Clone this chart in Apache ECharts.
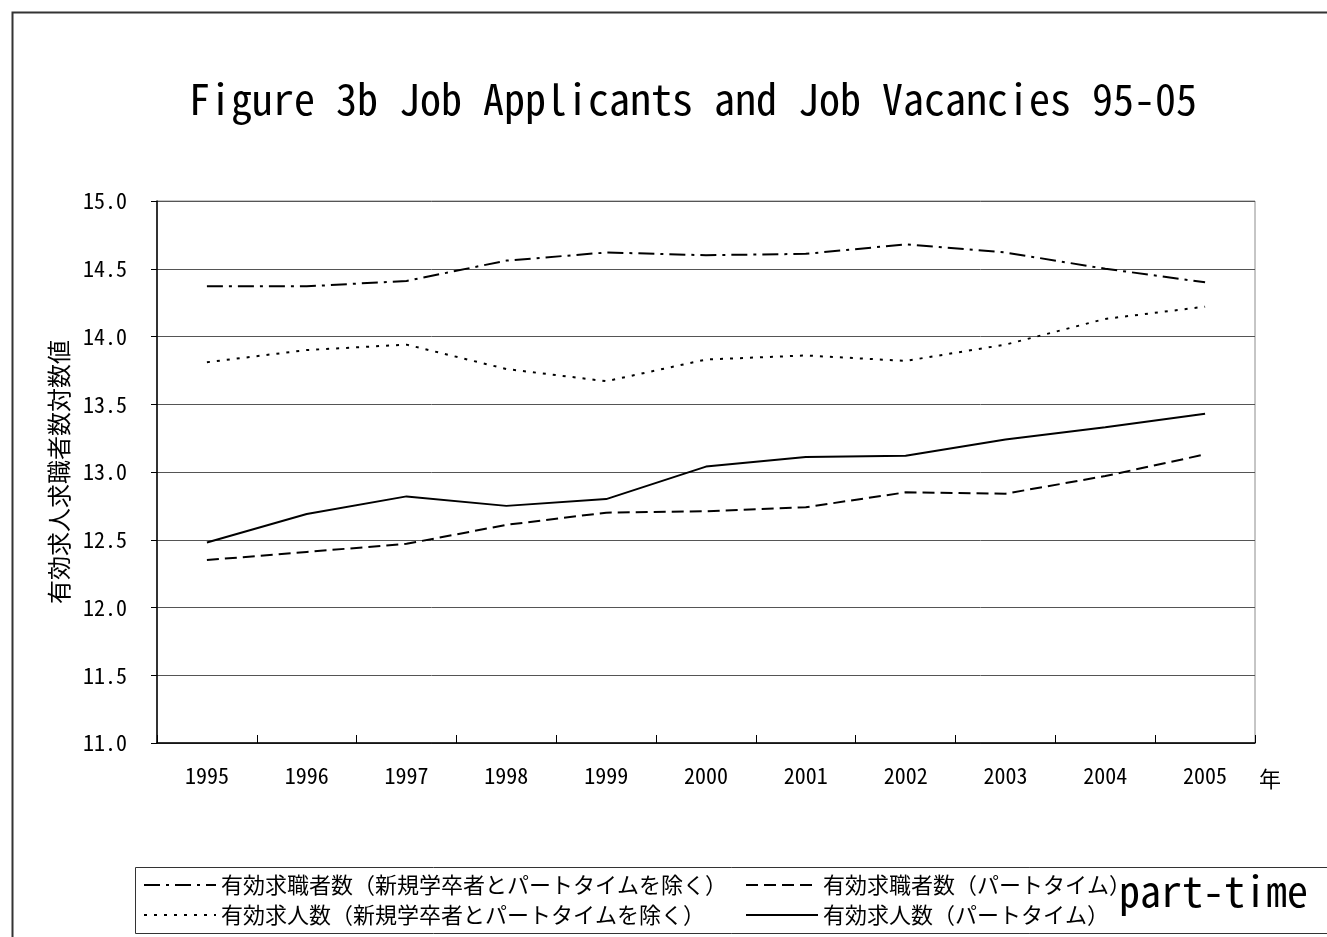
<!DOCTYPE html>
<html>
<head>
<meta charset="utf-8">
<script src="https://cdn.jsdelivr.net/npm/echarts@6/dist/echarts.min.js"></script>
<style>
html,body{margin:0;padding:0;background:#fff;}
#chart{width:1327px;height:937px;}
</style>
</head>
<body>
<div id="chart"></div>
<script>
// ---- data ----
var years = ['1995','1996','1997','1998','1999','2000','2001','2002','2003','2004','2005'];
var applicantsExcl = [14.37,14.37,14.41,14.56,14.62,14.60,14.61,14.68,14.62,14.50,14.40];
var applicantsPT   = [12.35,12.41,12.47,12.61,12.70,12.71,12.74,12.85,12.84,12.97,13.13];
var vacanciesExcl  = [13.81,13.90,13.94,13.76,13.67,13.83,13.86,13.82,13.94,14.13,14.22];
var vacanciesPT    = [12.48,12.69,12.82,12.75,12.80,13.04,13.11,13.12,13.24,13.33,13.43];
var names = {
  aE: '有効求職者数（新規学卒者とパートタイムを除く）',
  aP: '有効求職者数（パートタイム）',
  vE: '有効求人数（新規学卒者とパートタイムを除く）',
  vP: '有効求人数（パートタイム）'
};
var titleText = 'Figure 3b Job Applicants and Job Vacancies 95-05';
var yName = '有効求人求職者数対数値';
var xName = '年';
var note = 'part-time';

var MONO = "'Noto Sans Mono CJK JP', 'DejaVu Sans Mono', monospace";
var CJK = "'Noto Sans CJK JP', sans-serif";

function lineSeries(name, data, type) {
  return {
    name: name, type: 'line', data: data, symbol: 'none', smooth: false,
    lineStyle: { color: '#000', width: 2, type: type },
    itemStyle: { color: '#000' },
    emphasis: { disabled: true }, animation: false
  };
}

var legendBase = {
  orient: 'vertical', top: 869, itemGap: 8, itemWidth: 72, itemHeight: 14,
  itemStyle: { opacity: 0 },
  textStyle: { fontFamily: CJK, fontSize: 22, color: '#000' }, selectedMode: false
};

var chart = echarts.init(document.getElementById('chart'));
chart.setOption({
  backgroundColor: '#fff',
  animation: false,
  grid: { left: 157, right: 72, top: 201, bottom: 194, show: true, borderColor: '#8c8c8c', borderWidth: 1 },
  xAxis: {
    type: 'category', data: years, boundaryGap: true,
    axisLine: { lineStyle: { color: '#000', width: 1.5 } },
    axisTick: { show: true, inside: true, length: 8, lineStyle: { color: '#000' } },
    axisLabel: { fontFamily: MONO, fontSize: 22, color: '#000', margin: 22 },
    splitLine: { show: false }
  },
  yAxis: {
    type: 'value', min: 11, max: 15, interval: 0.5,
    axisLine: { show: true, lineStyle: { color: '#000', width: 1.5 } },
    axisTick: { show: true, inside: false, length: 6, lineStyle: { color: '#000' } },
    axisLabel: { fontFamily: MONO, fontSize: 22, color: '#000', margin: 30, formatter: function (v) { return v.toFixed(1); } },
    splitLine: { show: true, lineStyle: { color: '#555', width: 1 } },
    name: yName, nameLocation: 'middle', nameGap: 86, nameRotate: 90,
    nameTextStyle: { fontFamily: CJK, fontSize: 24, color: '#000' }
  },
  legend: [
    Object.assign({ left: 138, data: [names.aE, names.vE] }, legendBase),
    Object.assign({ left: 740, data: [names.aP, names.vP] }, legendBase)
  ],
  title: {
    text: titleText, left: 688, top: 73, textAlign: 'center',
    textStyle: { fontFamily: MONO, fontSize: 42, fontWeight: 'normal', color: '#000' }
  },
  graphic: [
    { type: 'rect', left: 10, top: 10, shape: { width: 1400, height: 1000 }, style: { fill: 'none', stroke: '#333', lineWidth: 2 }, z: -1 },
    { type: 'rect', left: 133, top: 865, shape: { width: 1300, height: 66 }, style: { fill: 'none', stroke: '#333', lineWidth: 1 }, z: -1 },
    { type: 'text', left: 1119, top: 870, style: { text: note, font: "42px " + MONO, fill: '#000' } },
    { type: 'text', left: 1259, top: 768, style: { text: xName, font: "22px " + CJK, fill: '#000' } }
  ],
  series: [
    lineSeries(names.aE, applicantsExcl, [16, 6, 3, 6]),
    lineSeries(names.aP, applicantsPT, [12, 6]),
    lineSeries(names.vE, vacanciesExcl, [3, 7]),
    lineSeries(names.vP, vacanciesPT, 'solid')
  ]
});
</script>
</body>
</html>
